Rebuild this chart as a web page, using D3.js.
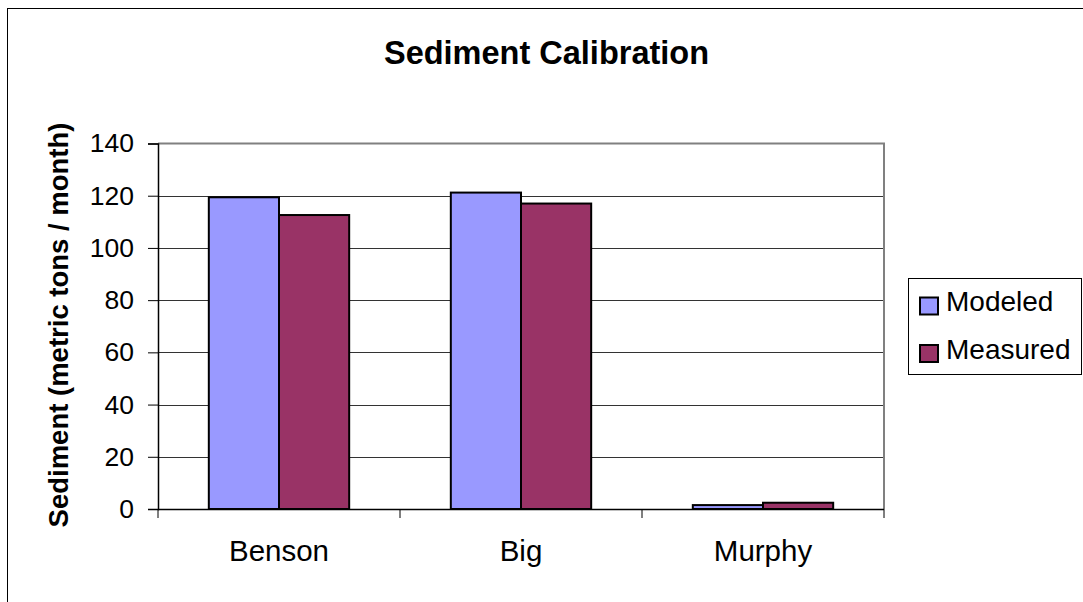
<!DOCTYPE html>
<html>
<head>
<meta charset="utf-8">
<script src="https://cdn.jsdelivr.net/npm/d3@7"></script>
<style>
  html, body { margin: 0; padding: 0; background: #fff; }
  svg { display: block; font-family: Arial, "Liberation Sans", sans-serif; }
</style>
</head>
<body>
<svg id="chart" width="1083" height="602"></svg>
<script>
// Monthly sediment load by watershed (metric tons / month)
const categories = ["Benson", "Big", "Murphy"];
const seriesNames = ["Modeled", "Measured"];
const modeled = [119.4, 121.2, 1.5];
const measured = [112.6, 117.0, 2.4];
const yTicks = [0, 20, 40, 60, 80, 100, 120, 140];
const colors = ["#9999FF", "#993366"];

const svg = d3.select("#chart");
const W = 1083, H = 602;
const plot = { left: 158, top: 143.5, right: 884, bottom: 509 };

// outer chart frame (runs off the right and bottom edges)
svg.append("rect")
  .attr("x", 7.5).attr("y", 8.5)
  .attr("width", W + 10).attr("height", H + 10)
  .attr("fill", "none").attr("stroke", "#000").attr("stroke-width", 1);

const x0 = d3.scaleBand().domain(categories).range([plot.left, plot.right]).paddingInner(0).paddingOuter(0);
const groupW = x0.bandwidth() * 0.58;
const x1 = d3.scaleBand().domain(seriesNames).range([0, groupW]).padding(0);
const y = d3.scaleLinear().domain([0, 140]).range([plot.bottom, plot.top]);

// gridlines
svg.append("g").selectAll("line")
  .data(yTicks.filter(d => d > 0 && d < 140))
  .join("line")
  .attr("x1", plot.left).attr("x2", plot.right)
  .attr("y1", d => Math.round(y(d)) + 0.5).attr("y2", d => Math.round(y(d)) + 0.5)
  .attr("stroke", "#333").attr("stroke-width", 1);

// plot area frame (top and right)
svg.append("path")
  .attr("d", `M${plot.left},${plot.top}H${plot.right}V${plot.bottom}`)
  .attr("fill", "none").attr("stroke", "#808080").attr("stroke-width", 2);

// bars
const rows = categories.map((c, i) => ({ c, vals: [modeled[i], measured[i]] }));
const groups = svg.append("g").selectAll("g")
  .data(rows).join("g")
  .attr("transform", d => `translate(${x0(d.c) + (x0.bandwidth() - groupW) / 2},0)`);
groups.selectAll("rect")
  .data(d => d.vals.map((v, j) => ({ s: seriesNames[j], v, j })))
  .join("rect")
  .attr("x", d => x1(d.s))
  .attr("y", d => y(d.v))
  .attr("width", x1.bandwidth())
  .attr("height", d => plot.bottom - y(d.v))
  .attr("fill", d => colors[d.j])
  .attr("stroke", "#000").attr("stroke-width", 2);

// y axis
const yAxis = d3.axisLeft(y).tickValues(yTicks).tickSize(10).tickPadding(14).tickFormat(d3.format("d"));
const gy = svg.append("g").attr("transform", `translate(${plot.left},0)`).call(yAxis);
gy.select(".domain").attr("stroke", "#000").attr("stroke-width", 1.5);
gy.selectAll(".tick line").attr("stroke", "#000");
gy.selectAll(".tick text").attr("font-size", 26.5).attr("fill", "#000")
  .attr("font-family", "Arial, 'Liberation Sans', sans-serif");

// x axis with ticks at category boundaries
const gx = svg.append("g").attr("transform", `translate(0,${plot.bottom})`);
gx.append("line").attr("x1", plot.left).attr("x2", plot.right)
  .attr("y1", 0.5).attr("y2", 0.5).attr("stroke", "#000").attr("stroke-width", 1.5);
const bounds = categories.map(c => x0(c)).concat([x0(categories[2]) + x0.bandwidth()]);
gx.selectAll("line.tk").data(bounds).join("line").attr("class", "tk")
  .attr("x1", d => d).attr("x2", d => d).attr("y1", 0).attr("y2", 9)
  .attr("stroke", "#000");
gx.selectAll("text").data(categories).join("text")
  .attr("x", d => x0(d) + x0.bandwidth() / 2)
  .attr("y", 51.5)
  .attr("text-anchor", "middle")
  .attr("font-size", 29.5)
  .text(d => d);

// title
svg.append("text")
  .attr("x", 546.5).attr("y", 63.5)
  .attr("text-anchor", "middle")
  .attr("font-size", 32.5).attr("font-weight", "bold")
  .text("Sediment Calibration");

// y axis label
svg.append("text")
  .attr("transform", "translate(67.5,325) rotate(-90)")
  .attr("text-anchor", "middle")
  .attr("font-size", 27.5).attr("font-weight", "bold")
  .text("Sediment (metric tons / month)");

// legend
const lg = svg.append("g");
lg.append("rect")
  .attr("x", 908.5).attr("y", 278.5).attr("width", 173).attr("height", 96)
  .attr("fill", "#fff").attr("stroke", "#000").attr("stroke-width", 1);
const items = lg.selectAll("g").data(seriesNames).join("g")
  .attr("transform", (d, i) => `translate(0,${i * 47.5})`);
items.append("rect")
  .attr("x", 920).attr("y", 297.5).attr("width", 18).attr("height", 17)
  .attr("fill", (d, i) => colors[i]).attr("stroke", "#000").attr("stroke-width", 2);
items.append("text")
  .attr("x", 946).attr("y", 311)
  .attr("font-size", 28)
  .text(d => d);
</script>
</body>
</html>
